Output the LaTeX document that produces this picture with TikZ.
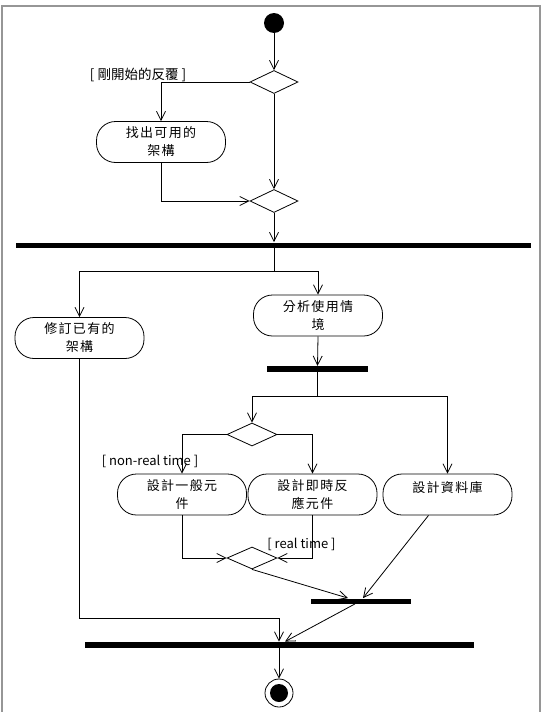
\documentclass[tikz,border=0pt]{standalone}
\usepackage{fontspec}
\setmainfont{Noto Sans CJK TC}
\newfontfamily\cjkfont{Noto Sans CJK TC}[LetterSpace=10]
\usetikzlibrary{shapes.geometric,arrows.meta}
\definecolor{framegray}{RGB}{150,150,150}
\tikzset{
  activity/.style={draw, rounded corners=19pt, minimum width=129pt, minimum height=41pt,
    inner sep=0pt, align=center, font=\cjkfont\fontsize{13}{18}\selectfont},
  decision/.style={draw, diamond, minimum width=48pt, minimum height=23pt, inner sep=0pt},
  syncbar/.style={fill=black, inner sep=0pt, minimum height=5pt},
  guard/.style={font=\fontsize{13}{15}\selectfont},
  flow/.style={-{Straight Barb[length=9pt,width=9pt]}},
}
\begin{document}
\begin{tikzpicture}[x=1pt, y=-1pt, line width=0.8pt]
    \useasboundingbox (0,0) rectangle (545,712);
    \draw[framegray, line width=2pt] (2,712) -- (2,6) -- (540,6) -- (540,712);
    % Start and first decision
    \node[circle, fill=black, minimum size=20pt, inner sep=0pt] (start) at (274,23) {};
    \node[decision] (d1) at (274,82) {};
    \node[guard, font=\fontsize{13.5}{15}\selectfont] (g1) at (138,75) {[ 剛開始的反覆 ]};
    \node[activity] (a1) at (161,142) {找出可用的\\架構};
    \node[decision] (d2) at (274,201) {};
    \node[syncbar, minimum width=515pt] (bar1) at (273.5,245) {};
    \draw[flow] (start) -- (d1.north);
    \draw[flow] (d1.west) -| (a1.north);
    \draw[flow] (d1.south) -- (d2.north);
    \draw[flow] (a1.south) |- (d2.west);
    \draw[flow] (d2.south) -- (d2.south |- bar1.north);
    % Fork after first bar
    \node[activity] (a2) at (79.5,338) {修訂已有的\\架構};
    \node[activity] (a3) at (318,315.5) {分析使用情\\境};
    \coordinate (f1) at (274,271);
    \draw (f1 |- bar1.south) -- (f1);
    \draw[flow] (f1) -| (a2.north);
    \draw[flow] (f1) -| (a3.north);
    \node[syncbar, minimum width=101pt, minimum height=5.5pt] (bar2) at (317.5,369) {};
    \draw[flow] (a3.south) -- (bar2.north);
    % Second fork
    \node[decision, minimum width=50pt] (d3) at (252,434.5) {};
    \node[guard] (g2) at (150,461) {[ non-real time ]};
    \node[activity] (a4) at (182,494.5) {設計一般元\\件};
    \node[activity] (a5) at (312.5,494.5) {設計即時反\\應元件};
    \node[activity, text depth=15pt] (a6) at (447.5,494.5) {設計資料庫};
    \coordinate (f2) at (317.5,396);
    \draw (bar2.south) -- (f2);
    \draw[flow] (f2) -| (d3.north);
    \draw[flow] (f2) -| (a6.north);
    \draw[flow] (d3.west) -| (a4.north);
    \draw[flow] (d3.east) -| (a5.north);
    % Merge and joins
    \node[decision, minimum width=50pt, minimum height=22pt] (d4) at (252,558) {};
    \node[guard] (g3) at (301.5,544) {[ real time ]};
    \node[syncbar, minimum width=100pt] (bar3) at (361,601) {};
    \node[syncbar, minimum width=389pt, minimum height=6pt] (bar4) at (279,645) {};
    \draw[flow] (a4.south) |- (d4.west);
    \draw[flow] (a5.south) |- (d4.east);
    \draw[flow] (d4.south) -- ([xshift=-13pt]bar3.north);
    \draw[flow] ([xshift=-19pt]a6.south) -- ([xshift=2pt]bar3.north);
    \coordinate (j1) at (279,618);
    \draw[flow] (a2.south) |- (j1) -- (j1 |- bar4.north);
    \draw[flow] ([xshift=-6pt]bar3.south) -- ([xshift=6pt]bar4.north);
    % End
    \node[circle, draw, minimum size=28pt, inner sep=0pt] (end) at (279,693) {};
    \fill (end) circle (9pt);
    \draw[flow] (bar4.south) -- (end.north);
\end{tikzpicture}
\end{document}
